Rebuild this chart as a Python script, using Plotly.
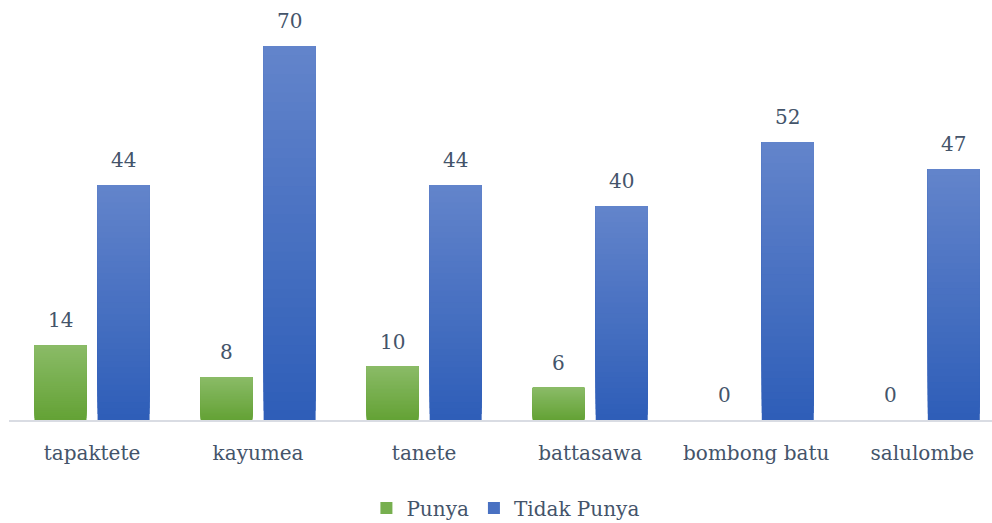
import numpy as np
import plotly.graph_objects as go

categories = ["tapaktete", "kayumea", "tanete", "battasawa", "bombong batu", "salulombe"]
punya = [14, 8, 10, 6, 0, 0]
tidak_punya = [44, 70, 44, 40, 52, 47]

FONT = "DejaVu Serif"
TEXT_COLOR = "#44546A"

# vertical gradient endpoints (bottom, top) for each series
GREEN = ((0x64, 0xA2, 0x35), (0x8A, 0xBB, 0x67))
BLUE = ((0x2E, 0x5E, 0xB8), (0x63, 0x84, 0xCB))

N_SLICES = 40
BAR_W = 0.313
SHIFT = 0.19

x_idx = np.arange(len(categories))


def mix(c0, c1, t):
    return "rgb({},{},{})".format(*[round(a + (b - a) * t) for a, b in zip(c0, c1)])


def gradient_bars(fig, values, xpos, colors, name):
    # each slice runs from its own base up to the bar top; later slices
    # paint over earlier ones, giving a seamless vertical gradient
    vals = np.array(values, dtype=float)
    step = vals / N_SLICES
    for k in range(N_SLICES):
        t = (k + 0.5) / N_SLICES
        base = step * k
        fig.add_trace(go.Bar(
            x=xpos, y=vals - base, base=base, width=BAR_W,
            marker=dict(color=mix(colors[0], colors[1], t), line=dict(width=0)),
            name=name, legendgroup=name,
            showlegend=(k == N_SLICES // 2),
            hoverinfo="skip",
        ))


fig = go.Figure()
gradient_bars(fig, punya, x_idx - SHIFT, GREEN, "Punya")
gradient_bars(fig, tidak_punya, x_idx + SHIFT, BLUE, "Tidak Punya")

# value labels above each bar
for xs, vals in ((x_idx - SHIFT, punya), (x_idx + SHIFT, tidak_punya)):
    for xv, v in zip(xs, vals):
        fig.add_annotation(
            x=xv, y=v, text=str(v), showarrow=False,
            yanchor="bottom", yshift=11,
            font=dict(family=FONT, size=20, color=TEXT_COLOR),
        )

fig.update_layout(
    width=992, height=523,
    barmode="overlay",
    plot_bgcolor="white", paper_bgcolor="white",
    margin=dict(l=9, r=0, t=46, b=103, autoexpand=False),
    font=dict(family=FONT, size=20, color=TEXT_COLOR),
    showlegend=True,
    legend=dict(
        orientation="h", x=0.505, xanchor="center",
        yref="container", y=(523 - 508) / 523, yanchor="middle",
        font=dict(family=FONT, size=20, color=TEXT_COLOR),
        itemwidth=30, traceorder="normal",
    ),
    xaxis=dict(
        range=[-0.5, 5.42],
        tickmode="array", tickvals=x_idx, ticktext=categories,
        showgrid=False, zeroline=False,
        showline=True, linecolor="#D9DCE3", linewidth=2,
        ticks="outside", ticklen=14, tickcolor="rgba(0,0,0,0)",
        tickfont=dict(family=FONT, size=20, color=TEXT_COLOR),
    ),
    yaxis=dict(
        range=[0, 70], showgrid=False, zeroline=False,
        showticklabels=False, showline=False,
    ),
)

fig.write_html("out.html")
